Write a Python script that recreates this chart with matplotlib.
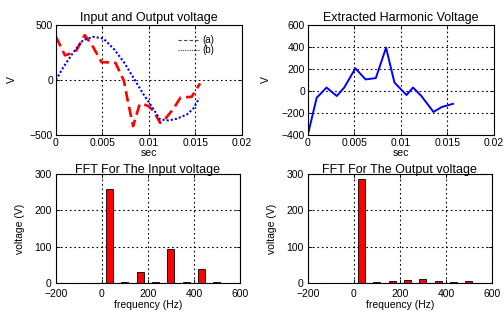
import matplotlib
matplotlib.use("Agg")
import matplotlib.pyplot as plt
from matplotlib.lines import Line2D

plt.rcParams['font.family'] = ['Liberation Sans', 'DejaVu Sans']
plt.rcParams['font.size'] = 7.5

# input voltage (a), red dashed
t_in = [0, 0.00097, 0.0017, 0.0022, 0.0031, 0.004, 0.0049, 0.0064, 0.0073,
        0.0078, 0.0083, 0.009, 0.0092, 0.0099, 0.0105, 0.0112, 0.0117, 0.0126,
        0.0134, 0.0146, 0.015, 0.0155]
v_in = [393, 224, 245, 270, 408, 300, 163, 156, -6,
        -221, -420, -221, -215, -236, -282, -390, -359, -267,
        -160, -153, -98, -31]

# output voltage (b), blue dotted
t_out = [0, 0.0008, 0.0019, 0.0029, 0.004, 0.0051, 0.0062, 0.0073, 0.0083,
         0.0094, 0.0105, 0.0112, 0.0121, 0.013, 0.0141, 0.0148, 0.0154]
v_out = [0, 117, 255, 362, 393, 377, 285, 163, 25,
         -129, -267, -359, -368, -353, -313, -258, -166]

# extracted harmonic voltage
t_h = [0, 0.00094, 0.002, 0.0031, 0.0039, 0.0051, 0.0062, 0.0073, 0.0084,
       0.0093, 0.0106, 0.0113, 0.0122, 0.0135, 0.0144, 0.0156]
v_h = [-394, -62, 31, -46, 31, 206, 105, 117, 394,
       77, -37, 31, -46, -191, -146, -117]

# FFT spectra
freqs = [33.3, 100, 166.7, 233.3, 300, 366.7, 433.3, 500]
fft_in = [258, 3, 30, 3, 93, 2, 38, 2]
fft_out = [285, 3, 5, 8, 10, 5, 2, 5]

fig = plt.figure(figsize=(5.04, 3.13), dpi=100)
ax1 = fig.add_axes([0.111, 0.569, 0.369, 0.351])
ax2 = fig.add_axes([0.611, 0.569, 0.369, 0.351])
ax3 = fig.add_axes([0.111, 0.096, 0.365, 0.348])
ax4 = fig.add_axes([0.611, 0.096, 0.365, 0.348])


def style(ax):
    ax.grid(True, color='black', linestyle=(0, (1.5, 2.5)), linewidth=0.8)
    ax.tick_params(direction='in', length=3, width=0.6, pad=2,
                   top=True, right=True)
    for s in ax.spines.values():
        s.set_linewidth(0.8)


ax1.plot(t_in, v_in, color='red', linestyle=(0, (4, 2)), linewidth=1.9)
ax1.plot(t_out, v_out, color='blue', linestyle=(0, (1, 1)), linewidth=1.5)
ax1.set_xlim(0, 0.02)
ax1.set_ylim(-500, 500)
ax1.set_yticks([-500, 0, 500])
ax1.set_title('Input and Output voltage', pad=3)
ax1.set_ylabel('V', labelpad=9)
ax1.set_xlabel('sec', labelpad=0)
handles = [Line2D([], [], color='#444444', linestyle=(0, (3, 2)), linewidth=0.8),
           Line2D([], [], color='#444444', linestyle=(0, (1, 1)), linewidth=0.8)]
ax1.legend(handles, ['(a)', '(b)'], loc='upper right', frameon=False,
           bbox_to_anchor=(0.89, 0.97), handlelength=2.2, handletextpad=0.3,
           labelspacing=0.0, borderpad=0.2, fontsize=7)

ax2.plot(t_h, v_h, color='blue', linewidth=1.4)
ax2.set_xlim(0, 0.02)
ax2.set_ylim(-400, 600)
ax2.set_yticks([-400, -200, 0, 200, 400, 600])
ax2.set_title('Extracted Harmonic Voltage', pad=3)
ax2.set_ylabel('V', labelpad=8)
ax2.set_xlabel('sec', labelpad=0)

for ax in (ax1, ax2):
    ax.set_xticks([0, 0.005, 0.01, 0.015, 0.02])
    ax.set_xticklabels(['0', '0.005', '0.01', '0.015', '0.02'])
    style(ax)

ax3.bar(freqs, fft_in, width=30, color='red', edgecolor='black', linewidth=0.6)
ax3.set_title('FFT For The Input voltage', pad=1)
ax4.bar(freqs, fft_out, width=30, color='red', edgecolor='black', linewidth=0.6)
ax4.set_title('FFT For The Output voltage', pad=1)
for ax in (ax3, ax4):
    ax.set_xlim(-200, 600)
    ax.set_ylim(0, 300)
    ax.set_xticks([-200, 0, 200, 400, 600])
    ax.set_yticks([0, 100, 200, 300])
    ax.set_xlabel('frequency (Hz)', labelpad=1)
    ax.set_ylabel('voltage (V)', labelpad=7)
    ax.set_axisbelow(True)
    style(ax)
    ax.tick_params(axis='x', pad=4)
    ax.tick_params(axis='y', pad=3)

fig.savefig('out.png', dpi=100)
